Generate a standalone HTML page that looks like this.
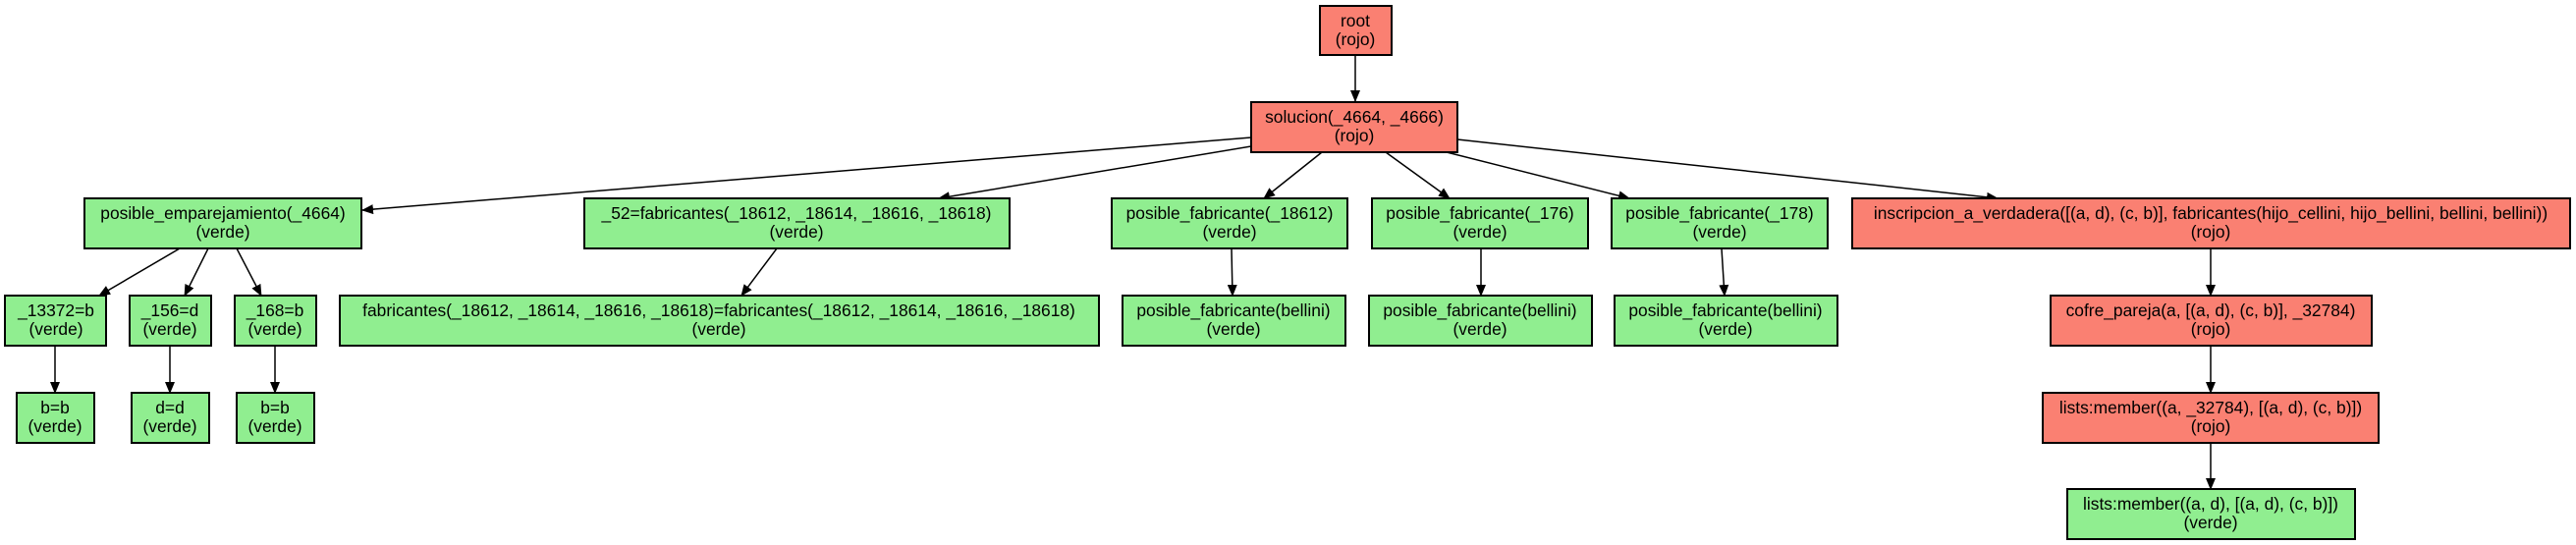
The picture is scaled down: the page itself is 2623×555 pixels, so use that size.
<!DOCTYPE html>
<html><head><meta charset="utf-8"><style>
html,body{margin:0;padding:0;background:#fff;}
svg{display:block;}
text{font-family:"Liberation Sans",Arial,sans-serif;font-size:17.4px;fill:#000;text-anchor:middle;}
.r{fill:#fa8072;stroke:#000;stroke-width:2;}
.g{fill:#90ee90;stroke:#000;stroke-width:2;}
line{stroke:#000;stroke-width:1.5;marker-end:url(#a);}
</style></head><body>
<svg width="2623" height="555" viewBox="0 0 2623 555" xmlns="http://www.w3.org/2000/svg">
<defs><marker id="a" markerWidth="12" markerHeight="10" refX="11" refY="5" orient="auto" markerUnits="userSpaceOnUse"><path d="M0,0 L12,5 L0,10 Z" fill="#000"/></marker></defs>
<line x1="1380" y1="56" x2="1380" y2="103"/>
<line x1="1274" y1="140" x2="369" y2="214"/>
<line x1="1274" y1="149" x2="956" y2="202"/>
<line x1="1346" y1="155" x2="1287" y2="202"/>
<line x1="1411" y1="155" x2="1476" y2="202"/>
<line x1="1473" y1="155" x2="1659" y2="202"/>
<line x1="1484" y1="142" x2="2034" y2="202"/>
<line x1="183" y1="253" x2="101" y2="301"/>
<line x1="212" y1="253" x2="188" y2="301"/>
<line x1="241" y1="253" x2="266" y2="301"/>
<line x1="791" y1="253" x2="755" y2="301"/>
<line x1="1254" y1="253" x2="1255" y2="301"/>
<line x1="1508" y1="253" x2="1508" y2="301"/>
<line x1="1753" y1="253" x2="1756" y2="301"/>
<line x1="2251" y1="253" x2="2251" y2="301"/>
<line x1="2251" y1="352" x2="2251" y2="400"/>
<line x1="2251" y1="451" x2="2251" y2="498"/>
<line x1="56" y1="352" x2="56" y2="400"/>
<line x1="173" y1="352" x2="173" y2="400"/>
<line x1="280" y1="352" x2="280" y2="400"/>
<rect class="r" x="1344" y="6" width="73" height="50"/><text x="1380" y="27">root</text><text x="1380" y="46">(rojo)</text>
<rect class="r" x="1274" y="104" width="210" height="51"/><text x="1379" y="125">solucion(_4664, _4666)</text><text x="1379" y="144">(rojo)</text>

<rect class="g" x="86" y="202" width="282" height="51"/><text x="227" y="223">posible_emparejamiento(_4664)</text><text x="227" y="242">(verde)</text>
<rect class="g" x="595" y="202" width="433" height="51"/><text x="811" y="223">_52=fabricantes(_18612, _18614, _18616, _18618)</text><text x="811" y="242">(verde)</text>
<rect class="g" x="1132" y="202" width="240" height="51"/><text x="1252" y="223">posible_fabricante(_18612)</text><text x="1252" y="242">(verde)</text>
<rect class="g" x="1397" y="202" width="220" height="51"/><text x="1507" y="223">posible_fabricante(_176)</text><text x="1507" y="242">(verde)</text>
<rect class="g" x="1641" y="202" width="220" height="51"/><text x="1751" y="223">posible_fabricante(_178)</text><text x="1751" y="242">(verde)</text>
<rect class="r" x="1886" y="202" width="731" height="51"/><text x="2251" y="223">inscripcion_a_verdadera([(a, d), (c, b)], fabricantes(hijo_cellini, hijo_bellini, bellini, bellini))</text><text x="2251" y="242">(rojo)</text>

<rect class="g" x="5" y="301" width="103" height="51"/><text x="57" y="322">_13372=b</text><text x="57" y="341">(verde)</text>
<rect class="g" x="132" y="301" width="83" height="51"/><text x="173" y="322">_156=d</text><text x="173" y="341">(verde)</text>
<rect class="g" x="239" y="301" width="83" height="51"/><text x="280" y="322">_168=b</text><text x="280" y="341">(verde)</text>
<rect class="g" x="346" y="301" width="773" height="51"/><text x="732" y="322">fabricantes(_18612, _18614, _18616, _18618)=fabricantes(_18612, _18614, _18616, _18618)</text><text x="732" y="341">(verde)</text>
<rect class="g" x="1143" y="301" width="227" height="51"/><text x="1256" y="322">posible_fabricante(bellini)</text><text x="1256" y="341">(verde)</text>
<rect class="g" x="1394" y="301" width="227" height="51"/><text x="1507" y="322">posible_fabricante(bellini)</text><text x="1507" y="341">(verde)</text>
<rect class="g" x="1644" y="301" width="227" height="51"/><text x="1757" y="322">posible_fabricante(bellini)</text><text x="1757" y="341">(verde)</text>
<rect class="r" x="2088" y="301" width="327" height="51"/><text x="2251" y="322">cofre_pareja(a, [(a, d), (c, b)], _32784)</text><text x="2251" y="341">(rojo)</text>

<rect class="g" x="17" y="400" width="79" height="51"/><text x="56" y="421">b=b</text><text x="56" y="440">(verde)</text>
<rect class="g" x="134" y="400" width="79" height="51"/><text x="173" y="421">d=d</text><text x="173" y="440">(verde)</text>
<rect class="g" x="241" y="400" width="79" height="51"/><text x="280" y="421">b=b</text><text x="280" y="440">(verde)</text>
<rect class="r" x="2080" y="400" width="342" height="51"/><text x="2251" y="421">lists:member((a, _32784), [(a, d), (c, b)])</text><text x="2251" y="440">(rojo)</text>

<rect class="g" x="2105" y="498" width="293" height="51"/><text x="2251" y="519">lists:member((a, d), [(a, d), (c, b)])</text><text x="2251" y="538">(verde)</text>
</svg>
</body></html>
